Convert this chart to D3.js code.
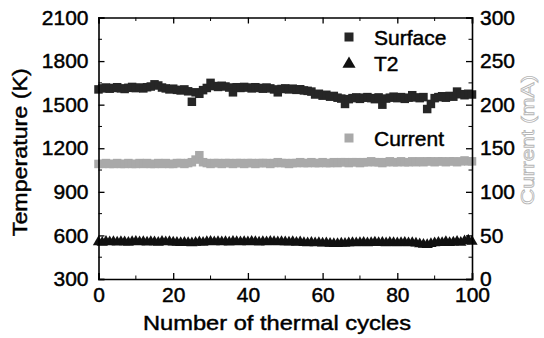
<!DOCTYPE html>
<html>
<head>
<meta charset="utf-8">
<script src="https://cdnjs.cloudflare.com/ajax/libs/d3/7.8.5/d3.min.js"></script>
<style>
  body { margin: 0; background: #fff; }
  svg { display: block; font-family: "Liberation Sans", Arial, sans-serif; }
  .lbl { stroke: #000; stroke-width: 0.45px; }
</style>
</head>
<body>
<svg id="chart"></svg>
<script>
// thermal cycle data, one point per cycle (0..100)
var cycles = d3.range(0, 101);

var surface = [
  1605,1612,1618,1610,1615,1620,1612,1608,1616,1622,
  1614,1618,1612,1620,1625,1640,1632,1618,1612,1605,
  1610,1602,1598,1605,1592,1520,1585,1575,1600,1615,
  1650,1628,1622,1630,1625,1618,1585,1620,1615,1622,
  1618,1612,1620,1615,1610,1618,1612,1605,1585,1608,
  1612,1605,1610,1602,1606,1598,1595,1590,1570,1575,
  1562,1568,1555,1560,1548,1542,1505,1538,1545,1550,
  1540,1548,1552,1545,1538,1550,1500,1542,1548,1555,
  1545,1552,1540,1548,1565,1550,1545,1552,1470,1505,
  1545,1552,1558,1548,1560,1555,1590,1572,1565,1575,
  1570];

var t2 = [
  555,552,558,554,556,553,557,555,552,556,
  558,554,556,553,557,555,552,558,554,556,
  553,551,549,552,550,548,552,555,552,556,
  558,555,557,554,556,553,558,556,554,557,
  555,558,556,553,557,555,558,556,554,557,
  555,553,556,552,554,550,548,551,547,549,
  546,548,545,543,542,546,544,548,550,547,
  549,552,548,550,553,549,551,548,552,550,
  547,549,551,548,550,546,541,538,536,542,
  548,552,550,556,549,553,558,551,562,566,
  558];

var current = [
  132,132,133,132,132,133,132,132,133,132,
  132,133,132,133,132,132,133,132,133,132,
  132,133,133,132,133,134,137,142,134,133,
  132,133,133,132,133,133,132,133,133,132,
  133,133,132,133,133,133,132,133,134,133,
  133,132,133,133,134,133,133,134,133,133,
  134,133,133,134,133,134,134,133,134,134,
  133,134,134,135,134,134,133,134,135,134,
  134,135,134,134,135,134,135,134,135,135,
  134,135,135,134,135,135,134,135,136,135,
  135];

var xTicks = [0, 20, 40, 60, 80, 100];
var tempTicks = [300, 600, 900, 1200, 1500, 1800, 2100];
var currTicks = [0, 50, 100, 150, 200, 250, 300];

var width = 544, height = 338;
var margin = {top: 17.5, right: 72, bottom: 59, left: 98.5};
var w = width - margin.left - margin.right,
    h = height - margin.top - margin.bottom;

var svg = d3.select("#chart")
    .attr("width", width)
    .attr("height", height);

var g = svg.append("g")
    .attr("transform", "translate(" + margin.left + "," + margin.top + ")");

var x = d3.scaleLinear().domain([0, 100]).range([0, w]);
var yT = d3.scaleLinear().domain([300, 2100]).range([h, 0]);
var yC = d3.scaleLinear().domain([0, 300]).range([h, 0]);

// ticks point inward on all four sides
function drawAxes() {
  var fmt = d3.format("d");
  var bottom = d3.axisBottom(x).tickValues(xTicks).tickSize(-6).tickPadding(9).tickFormat(fmt);
  var top = d3.axisTop(x).tickValues(xTicks).tickSize(-6).tickFormat("");
  var left = d3.axisLeft(yT).tickValues(tempTicks).tickSize(-6).tickPadding(9).tickFormat(fmt);
  var right = d3.axisRight(yC).tickValues(currTicks).tickSize(-6).tickPadding(8).tickFormat(fmt);

  var gb = g.append("g").attr("transform", "translate(0," + h + ")").call(bottom);
  var gt = g.append("g").call(top);
  var gl = g.append("g").call(left);
  var gr = g.append("g").attr("transform", "translate(" + w + ",0)").call(right);

  // minor ticks
  gb.selectAll(".minor").data([10, 30, 50, 70, 90]).enter().append("line")
    .attr("x1", function(d) { return x(d); }).attr("x2", function(d) { return x(d); })
    .attr("y1", 0).attr("y2", -3.5).attr("stroke", "#000");
  gt.selectAll(".minor").data([10, 30, 50, 70, 90]).enter().append("line")
    .attr("x1", function(d) { return x(d); }).attr("x2", function(d) { return x(d); })
    .attr("y1", 0).attr("y2", 3.5).attr("stroke", "#000");
  gl.selectAll(".minor").data([450, 750, 1050, 1350, 1650, 1950]).enter().append("line")
    .attr("y1", function(d) { return yT(d); }).attr("y2", function(d) { return yT(d); })
    .attr("x1", 0).attr("x2", 3.5).attr("stroke", "#000");
  gr.selectAll(".minor").data([25, 75, 125, 175, 225, 275]).enter().append("line")
    .attr("y1", function(d) { return yC(d); }).attr("y2", function(d) { return yC(d); })
    .attr("x1", 0).attr("x2", -3.5).attr("stroke", "#000");

  [gb, gt, gl, gr].forEach(function(a) {
    a.select(".domain").attr("stroke", "#000").attr("stroke-width", 1.6);
    a.selectAll(".tick line").attr("stroke", "#000").attr("stroke-width", 1.3);
    a.selectAll("text").attr("fill", "#000").attr("class", "lbl").style("font-size", "21px");
  });
  gb.selectAll("text").attr("dy", "0.68em");
  gl.selectAll("text").attr("dx", "-1");
}

function drawSeries() {
  var s = 8.5;
  g.append("g").selectAll("rect").data(cycles).enter().append("rect")
    .attr("x", function(d) { return x(d) - s / 2; })
    .attr("y", function(d) { return yC(current[d]) - s / 2; })
    .attr("width", s).attr("height", s)
    .attr("fill", "#a9a9a9");

  var tri = d3.symbol().type(d3.symbolTriangle).size(55);
  g.append("g").selectAll("path").data(cycles).enter().append("path")
    .attr("d", tri)
    .attr("transform", function(d) { return "translate(" + x(d) + "," + yT(t2[d]) + ")"; })
    .attr("fill", "#111");

  g.append("g").selectAll("rect").data(cycles).enter().append("rect")
    .attr("x", function(d) { return x(d) - s / 2; })
    .attr("y", function(d) { return yT(surface[d]) - s / 2; })
    .attr("width", s).attr("height", s)
    .attr("fill", "#262626");
}

function drawLabels() {
  svg.append("text")
    .attr("class", "lbl")
    .attr("transform", "translate(27," + (margin.top + h / 2 + 4) + ") rotate(-90)")
    .attr("text-anchor", "middle")
    .attr("textLength", 168).attr("lengthAdjust", "spacingAndGlyphs")
    .style("font-size", "21px")
    .text("Temperature (K)");

  svg.append("text")
    .attr("class", "lbl")
    .attr("x", 277).attr("y", 330)
    .attr("text-anchor", "middle")
    .attr("textLength", 268).attr("lengthAdjust", "spacingAndGlyphs")
    .style("font-size", "21px")
    .text("Number of thermal cycles");

  svg.append("text")
    .attr("transform", "translate(534,140) rotate(-90)")
    .attr("text-anchor", "middle")
    .attr("textLength", 130).attr("lengthAdjust", "spacingAndGlyphs")
    .attr("fill", "#fff").attr("stroke", "#b5b5b5").attr("stroke-width", 0.8)
    .style("font-size", "19px")
    .text("Current (mA)");

  // legend
  var leg = [
    {name: "Surface", type: "sq", fill: "#262626", ty: 45, my: 37},
    {name: "T2", type: "tri", fill: "#111", ty: 71, my: 63},
    {name: "Current", type: "sq", fill: "#a9a9a9", ty: 146, my: 138}
  ];
  var lg = svg.append("g");
  leg.forEach(function(d) {
    if (d.type == "sq") {
      lg.append("rect").attr("x", 344.5).attr("y", d.my - 4.5).attr("width", 9).attr("height", 9).attr("fill", d.fill);
    } else {
      lg.append("path").attr("d", d3.symbol().type(d3.symbolTriangle).size(75))
        .attr("transform", "translate(349," + (d.my + 1) + ")").attr("fill", d.fill);
    }
    lg.append("text").attr("x", 374).attr("y", d.ty).attr("class", "lbl")
      .style("font-size", "21px").text(d.name);
  });
}

drawSeries();
drawAxes();
drawLabels();
</script>
</body>
</html>
